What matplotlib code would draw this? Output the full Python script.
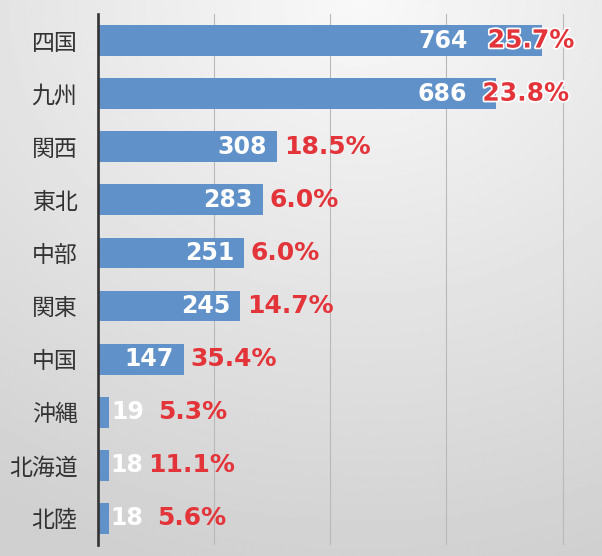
import numpy as np
import matplotlib
matplotlib.use("Agg")
import matplotlib.pyplot as plt
import matplotlib.patheffects as pe

regions = ["四国", "九州", "関西", "東北", "中部", "関東", "中国", "沖縄", "北海道", "北陸"]
counts = [764, 686, 308, 283, 251, 245, 147, 19, 18, 18]
shares = ["25.7%", "23.8%", "18.5%", "6.0%", "6.0%", "14.7%", "35.4%", "5.3%", "11.1%", "5.6%"]

BAR_COLOR = "#6191c9"
RED = "#e3343a"
PX = 72 / 100  # points per pixel at dpi 100

# labels on the two long bars were pulled in by hand (pixels)
shift_num = {0: -64, 1: -19}
shift_pct = {0: -61, 1: -21}

fig = plt.figure(figsize=(6.02, 5.56), dpi=100)

# soft grey background, lighter near the top
bg = fig.add_axes([0, 0, 1, 1], zorder=-10)
yy, xx = np.mgrid[0:1:300j, 0:1:300j]
d = np.sqrt(((xx - 0.6) * 0.9) ** 2 + (yy - 0.0) ** 2)
shade = 0.975 - 0.16 * np.clip(d / 1.05, 0, 1)
bg.imshow(shade, cmap="gray", vmin=0, vmax=1, aspect="auto",
          extent=[0, 1, 1, 0], interpolation="bilinear")
bg.set_axis_off()

ax = fig.add_axes([98.3 / 602, 11 / 556, 1 - 98.3 / 602, 531 / 556])
ax.set_facecolor("none")

y = np.arange(len(regions))
bars = ax.barh(y, counts, height=0.58, color=BAR_COLOR, zorder=2)

ax.set_xlim(0, 868)
ax.set_ylim(len(regions) - 0.5, -0.5)
ax.set_xticks([200, 400, 600, 800])
ax.xaxis.grid(True, color="#b9b9b9", linewidth=0.8)
ax.set_axisbelow(True)
ax.tick_params(axis="x", length=0, labelbottom=False)
ax.tick_params(axis="y", length=0, pad=15)
ax.set_yticks(y, labels=regions, fontsize=16.5, color="#333333",
              family=["Noto Sans CJK JP", "DejaVu Sans"])

for s in ["top", "right", "bottom"]:
    ax.spines[s].set_visible(False)
ax.spines["left"].set_color("#333333")
ax.spines["left"].set_linewidth(1.9)
ax.spines["left"].set_zorder(3)

for i, (v, p) in enumerate(zip(counts, shares)):
    if v < 50:
        ax.annotate(str(v), (v, i), xytext=(2 * PX, 0), textcoords="offset points",
                    ha="left", va="center", color="white", fontsize=17,
                    fontweight="bold", zorder=4)
        ax.annotate(p, (v, i), xytext=(83 * PX, 0), textcoords="offset points",
                    ha="center", va="center", color=RED, fontsize=18,
                    fontweight="bold", zorder=4)
        continue
    ax.annotate(str(v), (v, i), xytext=((-10 + shift_num.get(i, 0)) * PX, 0),
                textcoords="offset points", ha="right", va="center",
                color="white", fontsize=17, fontweight="bold", zorder=4)
    t = ax.annotate(p, (v, i), xytext=((7 + shift_pct.get(i, 0)) * PX, 0),
                    textcoords="offset points", ha="left", va="center",
                    color=RED, fontsize=18, fontweight="bold", zorder=4)
    if i in shift_pct:
        t.set_path_effects([pe.withStroke(linewidth=2.5, foreground="white")])

fig.savefig("out.png", dpi=100)
